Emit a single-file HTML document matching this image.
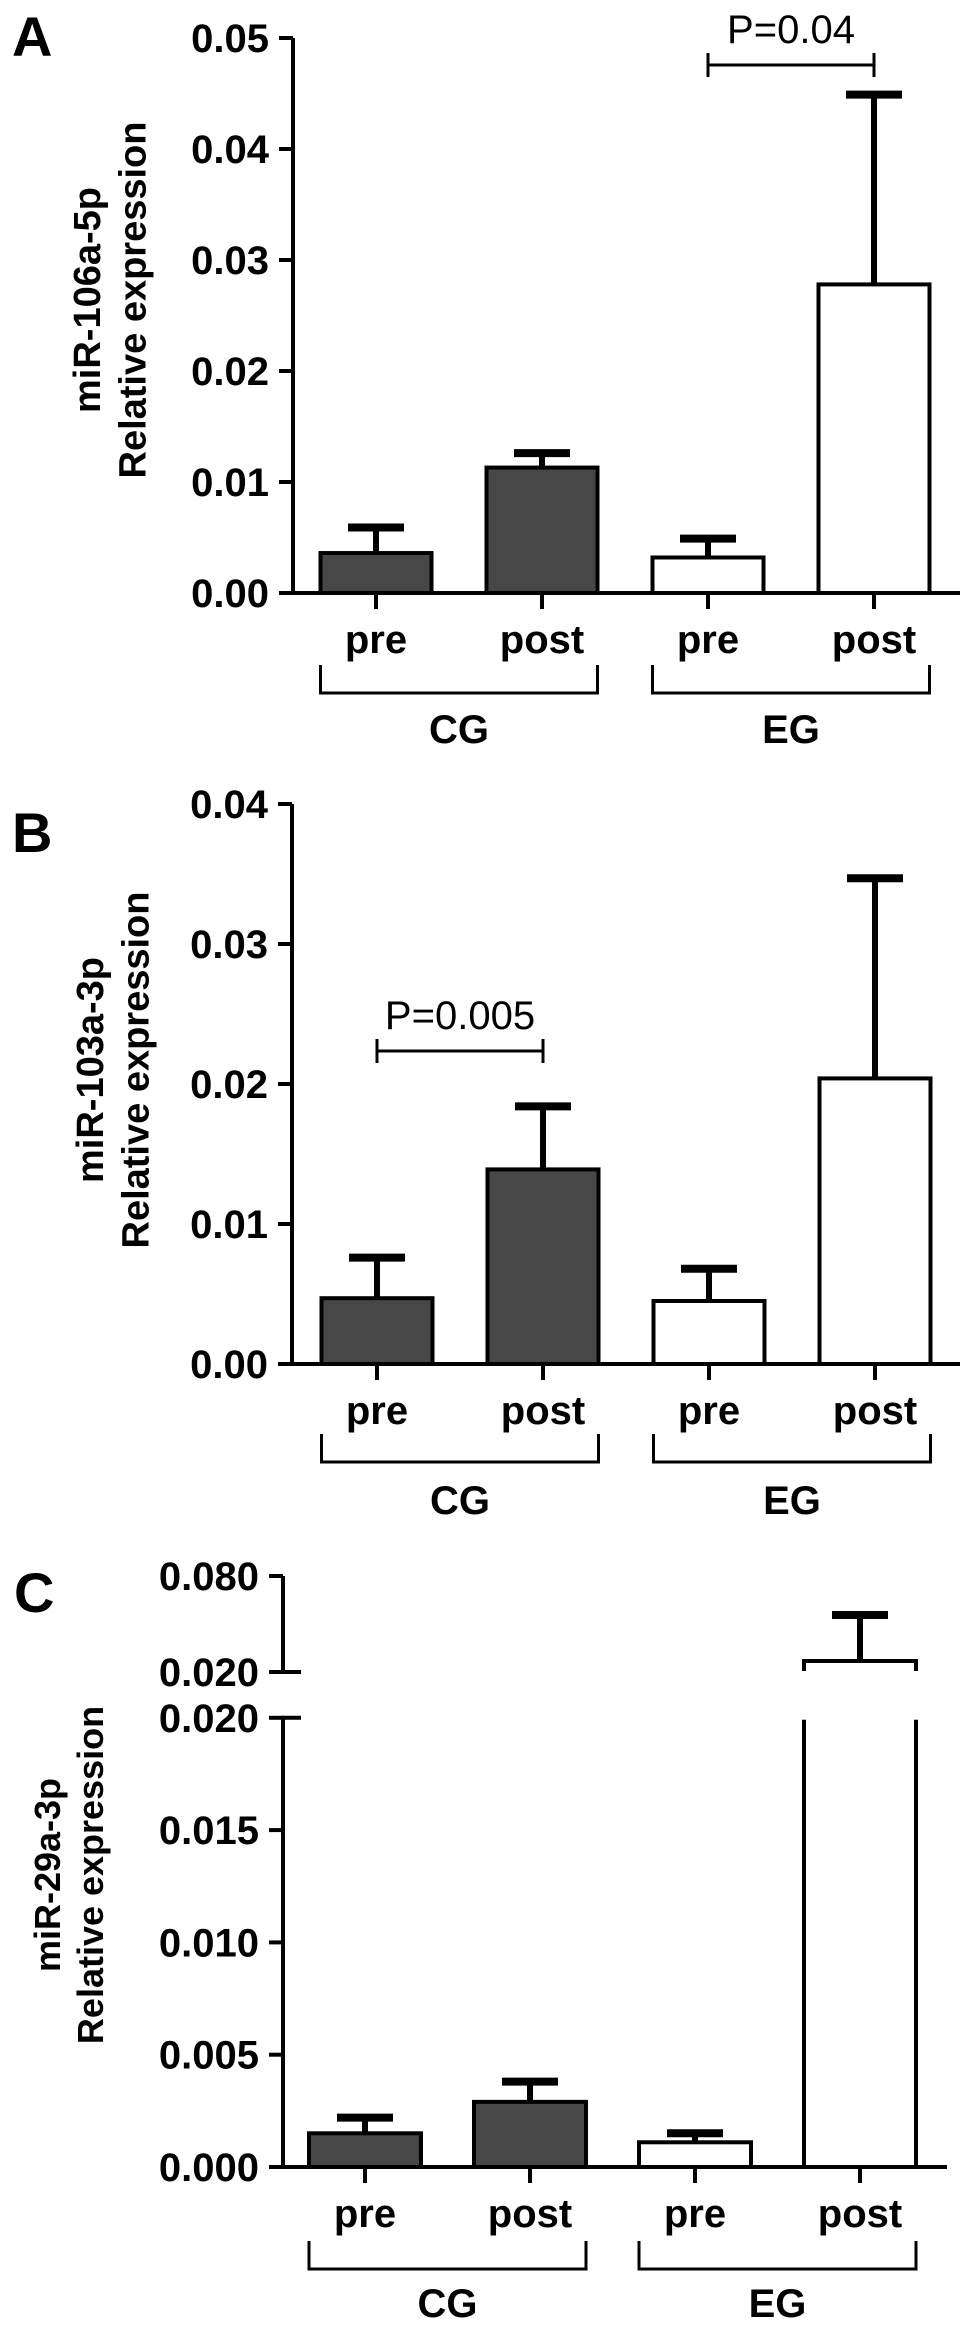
<!DOCTYPE html>
<html><head><meta charset="utf-8"><style>
html,body{margin:0;padding:0;background:#fff;}
svg{display:block;}
text{font-family:"Liberation Sans",Arial,sans-serif;fill:#000;}
</style></head><body>
<svg id="fig" width="969" height="2330" viewBox="0 0 969 2330" xmlns="http://www.w3.org/2000/svg"></svg>
<script>
const categories = ["pre", "post", "pre", "post"];
const groups = ["CG", "EG"];
const aValues = [0.0036, 0.0113, 0.0032, 0.0278];
const aErrors = [0.0059, 0.0126, 0.0049, 0.0449];
const aTicks = ["0.00", "0.01", "0.02", "0.03", "0.04", "0.05"];
const aTickVals = [0, 0.01, 0.02, 0.03, 0.04, 0.05];
const bValues = [0.0047, 0.0139, 0.0045, 0.0204];
const bErrors = [0.0076, 0.0184, 0.0068, 0.0347];
const bTicks = ["0.00", "0.01", "0.02", "0.03", "0.04"];
const bTickVals = [0, 0.01, 0.02, 0.03, 0.04];
const cValues = [0.0015, 0.0029, 0.0011, 0.0269];
const cErrors = [0.0022, 0.0038, 0.0015, 0.0556];
const cTicksLow = ["0.000", "0.005", "0.010", "0.015", "0.020"];
const cTickValsLow = [0, 0.005, 0.01, 0.015, 0.02];
const cTicksHigh = ["0.020", "0.080"];
const cTickValsHigh = [0.02, 0.08];

const NS = "http://www.w3.org/2000/svg";
const svg = document.getElementById("fig");
function mk(tag, attrs, parent, txt){
  const e = document.createElementNS(NS, tag);
  for (const k in attrs) e.setAttribute(k, attrs[k]);
  if (txt !== undefined) e.textContent = txt;
  (parent || svg).appendChild(e);
  return e;
}
const fills = ["#474747", "#474747", "#ffffff", "#ffffff"];

function panel(cfg){
  const g = mk("g", {});
  
  
  const L = mk("text", {x: cfg.letterX, y: cfg.letterY, "font-size": 56, "font-weight": "bold"}, g, cfg.letter);
  
  
  // axis title
  const t = mk("text", {transform: `translate(${cfg.titleX},${cfg.titleY}) rotate(-90)`, "text-anchor": "middle", "font-size": cfg.titleSize, "font-weight": "bold"}, g);
  
  
  mk("tspan", {x: 0, dy: 0}, t, cfg.title1);
  mk("tspan", {x: 0, dy: cfg.titleSize * 1.2}, t, "Relative expression");
  const ax = cfg.axisX;
  // y axis segments
  cfg.segments.forEach(s => {
    const yTop = s.scale(s.max), yBot = s.scale(s.min);
    const ln = mk("line", {x1: ax, y1: yTop, x2: ax, y2: yBot + (s.base ? 2 : 0), stroke: "#000", "stroke-width": 4}, g);
    
    
    if (s.breakTop) mk("line", {x1: ax - 2, y1: yTop, x2: ax + 18, y2: yTop, stroke: "#000", "stroke-width": 4}, g);
    if (s.breakBot) mk("line", {x1: ax - 2, y1: yBot, x2: ax + 18, y2: yBot, stroke: "#000", "stroke-width": 4}, g);
    s.tickVals.forEach((v, i) => {
      const y = s.scale(v);
      mk("line", {x1: ax - 14, y1: y, x2: ax, y2: y, stroke: "#000", "stroke-width": 4}, g);
      const tl = mk("text", {x: ax - 24, y: y + 14, "text-anchor": "end", "font-size": 40, "font-weight": "bold"}, g, s.ticks[i]);
      
      
    });
  });
  const base = cfg.baseY;
  const bl = mk("line", {x1: ax - 2, y1: base, x2: cfg.axisEnd, y2: base, stroke: "#000", "stroke-width": 4}, g);
  
  
  const bw = cfg.barW;
  cfg.values.forEach((v, i) => {
    const cx = cfg.x0 + i * cfg.step;
    const broken = cfg.brokenIdx === i;
    const top = broken ? cfg.hiScale(v) : cfg.scale(v);
    const errY = broken ? cfg.hiScale(cfg.errors[i]) : cfg.scale(cfg.errors[i]);
    // error bar
    const eb = mk("g", {}, g);
    
    
    mk("line", {x1: cx, y1: errY, x2: cx, y2: top, stroke: "#000", "stroke-width": 6}, eb);
    mk("line", {x1: cx - 28, y1: errY, x2: cx + 28, y2: errY, stroke: "#000", "stroke-width": 8}, eb);
    if (!broken) {
      const r = mk("rect", {x: cx - bw / 2, y: top, width: bw, height: base - top, fill: fills[i], stroke: "#000", "stroke-width": 4}, g);
      
      
    } else {
      const bg = mk("g", {}, g);
      
      
      const lowTop = cfg.scale(cfg.lowMax) + 2;
      mk("line", {x1: cx - bw / 2, y1: lowTop, x2: cx - bw / 2, y2: base, stroke: "#000", "stroke-width": 4}, bg);
      mk("line", {x1: cx + bw / 2, y1: lowTop, x2: cx + bw / 2, y2: base, stroke: "#000", "stroke-width": 4}, bg);
      mk("polyline", {points: `${cx - bw / 2},${top + 10} ${cx - bw / 2},${top} ${cx + bw / 2},${top} ${cx + bw / 2},${top + 10}`, fill: "none", stroke: "#000", "stroke-width": 4}, bg);
    }
    mk("line", {x1: cx, y1: base, x2: cx, y2: base + 16, stroke: "#000", "stroke-width": 4}, g);
    const xl = mk("text", {x: cx, y: base + cfg.labOff, "text-anchor": "middle", "font-size": 40, "font-weight": "bold"}, g, categories[i]);
    
    
  });
  groups.forEach((gn, k) => {
    const x1 = cfg.x0 + 2 * k * cfg.step - bw / 2, x2 = cfg.x0 + (2 * k + 1) * cfg.step + bw / 2;
    const by = base + cfg.brOff;
    const br = mk("polyline", {points: `${x1},${by} ${x1},${by + 28} ${x2},${by + 28} ${x2},${by}`, fill: "none", stroke: "#000", "stroke-width": 3}, g);
    
    
    const gl = mk("text", {x: (x1 + x2) / 2, y: base + cfg.grpOff, "text-anchor": "middle", "font-size": 40, "font-weight": "bold"}, g, gn);
    
    
  });
  if (cfg.sig) {
    const s = cfg.sig;
    const xa = cfg.x0 + s.a * cfg.step, xb = cfg.x0 + s.b * cfg.step;
    const sg = mk("g", {}, g);
    
    
    mk("line", {x1: xa, y1: s.y, x2: xb, y2: s.y, stroke: "#000", "stroke-width": 3}, sg);
    mk("line", {x1: xa, y1: s.y - 12, x2: xa, y2: s.y + 12, stroke: "#000", "stroke-width": 3}, sg);
    mk("line", {x1: xb, y1: s.y - 12, x2: xb, y2: s.y + 12, stroke: "#000", "stroke-width": 3}, sg);
    const st = mk("text", {x: (xa + xb) / 2, y: s.y - 22, "text-anchor": "middle", "font-size": 40}, sg, s.label);
    
    
  }
}

// Panel A
(function(){
  const y0 = 593, per = 11100;
  const sc = v => y0 - v * per;
  panel({letter: "A", letterX: 12, letterY: 56, title1: "miR-106a-5p", titleX: 100, titleY: 300, titleSize: 38,
    axisX: 293, axisEnd: 960, baseY: y0, scale: sc, values: aValues, errors: aErrors,
    x0: 376, step: 166, barW: 111, labOff: 60, brOff: 72, grpOff: 150,
    segments: [{min: 0, max: 0.05, scale: sc, ticks: aTicks, tickVals: aTickVals, base: true}],
    sig: {a: 2, b: 3, y: 65, label: "P=0.04"}});
})();
// Panel B
(function(){
  const y0 = 1364, per = 14000;
  const sc = v => y0 - v * per;
  panel({letter: "B", letterX: 12, letterY: 852, title1: "miR-103a-3p", titleX: 103, titleY: 1070, titleSize: 38,
    axisX: 292, axisEnd: 960, baseY: y0, scale: sc, values: bValues, errors: bErrors,
    x0: 377, step: 166, barW: 111, labOff: 60, brOff: 70, grpOff: 150,
    segments: [{min: 0, max: 0.04, scale: sc, ticks: bTicks, tickVals: bTickVals, base: true}],
    sig: {a: 0, b: 1, y: 1051, label: "P=0.005"}});
})();
// Panel C (broken axis)
(function(){
  const y0 = 2167, per = 22460;
  const sc = v => y0 - v * per;
  const hi = v => 1672 - (v - 0.02) * 1600;
  panel({letter: "C", letterX: 14, letterY: 1612, title1: "miR-29a-3p", titleX: 60, titleY: 1875, titleSize: 36,
    axisX: 283, axisEnd: 947, baseY: y0, scale: sc, hiScale: hi, lowMax: 0.02, brokenIdx: 3,
    values: cValues, errors: cErrors,
    x0: 365, step: 165, barW: 112, labOff: 60, brOff: 74, grpOff: 150,
    segments: [
      {min: 0, max: 0.02, scale: sc, ticks: cTicksLow, tickVals: cTickValsLow, base: true, breakTop: true},
      {min: 0.02, max: 0.08, scale: hi, ticks: cTicksHigh, tickVals: cTickValsHigh, breakBot: true}
    ]});
})();
</script>
</body></html>
